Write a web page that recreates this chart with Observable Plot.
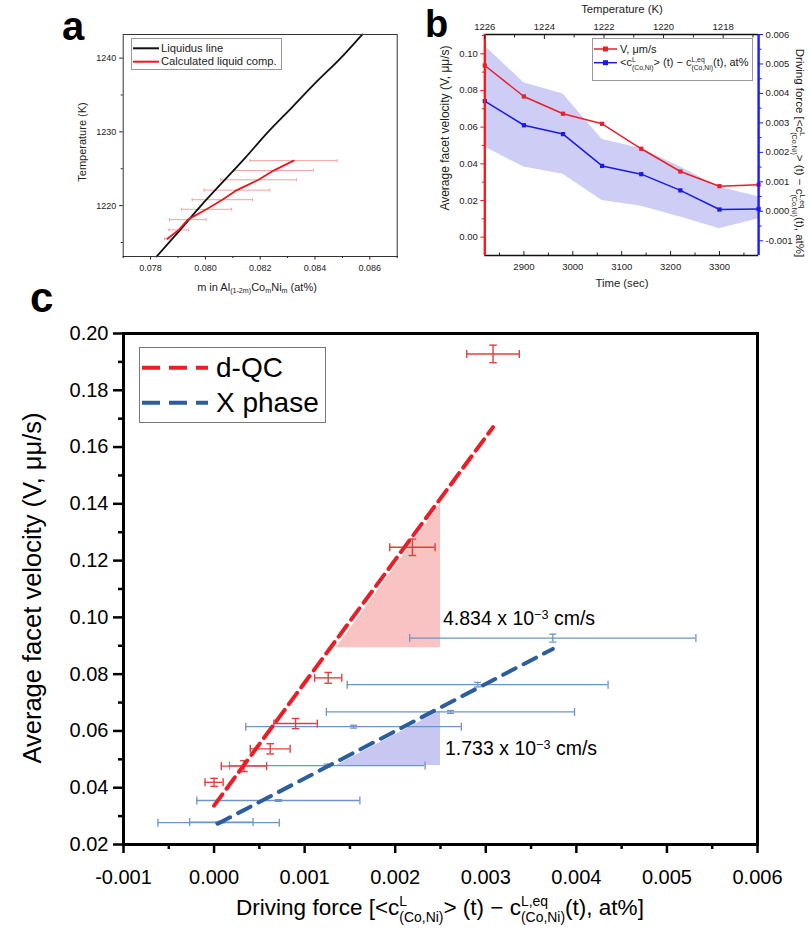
<!DOCTYPE html>
<html>
<head>
<meta charset="utf-8">
<script src="https://cdn.jsdelivr.net/npm/d3@7"></script>
<script src="https://cdn.jsdelivr.net/npm/@observablehq/plot@0.6"></script>
<style>
  html, body { margin: 0; padding: 0; background: #fff; }
  #root { position: relative; width: 809px; height: 936px; overflow: hidden; font-family: "Liberation Sans", Arial, sans-serif; color: #000; }
  .lbl { position: absolute; white-space: nowrap; line-height: 1; }
  .lbl sub, .lbl sup { font-size: 0.65em; vertical-align: baseline; position: relative; line-height: 0; }
  .lbl sub { top: 0.3em; }
  .lbl sup { top: -0.5em; }
  .ss { display: inline-flex; flex-direction: column; font-size: 0.62em; line-height: 1.15; position: relative; top: -0.62em; vertical-align: baseline; }
  .box { position: absolute; background: #fff; box-sizing: border-box; }
</style>
</head>
<body>
<div id="root"></div>
<script>
// ---------------- Panel a data ----------------
const aXTicks = [0.078, 0.080, 0.082, 0.084, 0.086];
const aXMinor = [0.077, 0.079, 0.081, 0.083, 0.085, 0.087];
const aYTicks = [1220, 1230, 1240];
const aYMinor = [1215, 1225, 1235];
const liquidusM = [0.07822, 0.07896, 0.07984, 0.08056, 0.08141, 0.08229, 0.08318, 0.08406, 0.08491, 0.08572];
const liquidusT = [1213.1, 1216.2, 1220.0, 1222.9, 1226.3, 1230.0, 1233.4, 1236.8, 1239.9, 1243.2];
const calcT = [1226.1, 1224.75, 1223.5, 1222.1, 1220.8, 1219.5, 1218.1, 1216.7, 1215.5];
const calcM = [0.08322, 0.08249, 0.08194, 0.08115, 0.08062, 0.08004, 0.07936, 0.07903, 0.07861];
const calcMErr = [0.00159, 0.00145, 0.00139, 0.0012, 0.0011, 0.00091, 0.00067, 0.00036, 0.0001];

// ---------------- Panel b data ----------------
const timeSec = [2820, 2900, 2980, 3060, 3140, 3220, 3300, 3380];
const velocity = [0.0936, 0.0767, 0.0673, 0.0618, 0.0482, 0.0358, 0.0278, 0.0286];
const drivingForce = [0.00374, 0.00292, 0.00262, 0.00154, 0.00126, 0.00071, 0.00006, 0.00008];
const dfUpper = [0.00561, 0.00436, 0.00398, 0.00244, 0.00213, 0.00150, 0.00082, 0.00049];
const dfLower = [0.00218, 0.00150, 0.00126, 0.00037, 0.00017, -0.00019, -0.00059, -0.00025];
const bTimeTicks = [2900, 3000, 3100, 3200, 3300];
const bTimeMinor = [2850, 2950, 3050, 3150, 3250, 3350];
const bTempTicks = [1226, 1224, 1222, 1220, 1218];
const bTempMinor = [1225, 1223, 1221, 1219, 1217];
const bTempRange = [1226, 1216.81];
const bVTicks = [0.00, 0.02, 0.04, 0.06, 0.08, 0.10];
const bVMinor = [0.01, 0.03, 0.05, 0.07, 0.09, 0.11];
const bVDomain = [-0.01, 0.1105];
const bDFTicks = [-0.001, 0.000, 0.001, 0.002, 0.003, 0.004, 0.005, 0.006];
const bDFMinor = [-0.0005, 0.0005, 0.0015, 0.0025, 0.0035, 0.0045, 0.0055];
const bDFDomain = [-0.0015, 0.006];

// ---------------- Panel c data ----------------
const cXTicks = [-0.001, 0.000, 0.001, 0.002, 0.003, 0.004, 0.005, 0.006];
const cXMinor = [-0.0005, 0.0005, 0.0015, 0.0025, 0.0035, 0.0045, 0.0055];
const cYTicks = [0.02, 0.04, 0.06, 0.08, 0.10, 0.12, 0.14, 0.16, 0.18, 0.20];
const cYMinor = [0.03, 0.05, 0.07, 0.09, 0.11, 0.13, 0.15, 0.17, 0.19];
const qcForce = [0.0000, 0.00033, 0.00062, 0.0009, 0.00126, 0.00219, 0.00308];
const qcVel = [0.0419, 0.0476, 0.0537, 0.0626, 0.0787, 0.1247, 0.1928];
const qcForceErr = [0.0001, 0.00025, 0.00022, 0.00024, 0.00015, 0.00025, 0.00029];
const qcVelErr = [0.0014, 0.0019, 0.0018, 0.0018, 0.0019, 0.0029, 0.0031];
const xpForce = [0.00374, 0.00291, 0.00261, 0.00154, 0.00125, 0.00071, 0.00005, 0.00008];
const xpVel = [0.0927, 0.0763, 0.0667, 0.0615, 0.0478, 0.0355, 0.0277, 0.0279];
const xpForceErr = [0.00158, 0.00144, 0.00137, 0.00119, 0.00108, 0.0009, 0.00067, 0.00035];
const xpVelErr = [0.0014, 0.0008, 0.0005, 0.0005, 0.0005, 0.0003, 0.0003, 0.0003];
const qcFitX = [0.0000, 0.00308];
const qcFitY = [0.0337, 0.167];
const xpFitX = [0.00004, 0.00374];
const xpFitY = [0.0273, 0.0889];
const qcShadeX = [0.00135, 0.0025];
const qcShadeLow = [0.0893, 0.0893];
const qcShadeHigh = [0.0893, 0.14];
const xpShadeX = [0.00135, 0.0025];
const xpShadeLow = [0.0478, 0.0478];
const xpShadeHigh = [0.0478, 0.067];

// ---------------- helpers ----------------
const FONT = '"Liberation Sans", Arial, sans-serif';
const root = document.getElementById("root");
const vbar = {draw(ctx, size) { const r = Math.sqrt(size / Math.PI); ctx.moveTo(0, -r); ctx.lineTo(0, r); }};
const hbar = {draw(ctx, size) { const r = Math.sqrt(size / Math.PI); ctx.moveTo(-r, 0); ctx.lineTo(r, 0); }};
const fmt = (n) => (v) => (Math.abs(v) < 1e-12 ? 0 : v).toFixed(n);
const blank = () => "";

function errX(data, color, cap, sw) {
  return [
    Plot.ruleY(data, {y: "y", x1: d => d.x - d.ex, x2: d => d.x + d.ex, stroke: color, strokeWidth: sw}),
    Plot.dot(data, {x: d => d.x - d.ex, y: "y", symbol: vbar, r: cap, stroke: color, strokeWidth: sw, fill: "none"}),
    Plot.dot(data, {x: d => d.x + d.ex, y: "y", symbol: vbar, r: cap, stroke: color, strokeWidth: sw, fill: "none"})
  ];
}
function errY(data, color, cap, sw) {
  return [
    Plot.ruleX(data, {x: "x", y1: d => d.y - d.ey, y2: d => d.y + d.ey, stroke: color, strokeWidth: sw}),
    Plot.dot(data, {x: "x", y: d => d.y - d.ey, symbol: hbar, r: cap, stroke: color, strokeWidth: sw, fill: "none"}),
    Plot.dot(data, {x: "x", y: d => d.y + d.ey, symbol: hbar, r: cap, stroke: color, strokeWidth: sw, fill: "none"})
  ];
}
function place(svg, left, top) {
  svg.style.position = "absolute";
  svg.style.left = left + "px";
  svg.style.top = top + "px";
  root.appendChild(svg);
}
function label(html, o) {
  const d = document.createElement("div");
  d.className = "lbl";
  d.innerHTML = html;
  d.style.fontSize = o.size + "px";
  d.style.height = o.size + "px";
  if (o.bold) d.style.fontWeight = "bold";
  if (o.color) d.style.color = o.color;
  if (o.cx !== undefined) {
    d.style.left = o.cx + "px";
    d.style.top = o.cy + "px";
    d.style.transform = `translate(-50%,-50%) rotate(${o.rotate || 0}deg)`;
  } else {
    d.style.left = o.x + "px";
    d.style.top = (o.baseline - 0.85 * o.size) + "px";
  }
  root.appendChild(d);
  return d;
}
function box(left, top, w, h, border) {
  const d = document.createElement("div");
  d.className = "box";
  Object.assign(d.style, {left: left + "px", top: top + "px", width: w + "px", height: h + "px", border: border});
  root.appendChild(d);
}
function legendLine(x1, x2, y, color, width, dash, marker) {
  const s = document.createElementNS("http://www.w3.org/2000/svg", "svg");
  s.setAttribute("width", 809); s.setAttribute("height", 936);
  s.style.position = "absolute"; s.style.left = "0px"; s.style.top = "0px"; s.style.overflow = "visible";
  s.style.pointerEvents = "none";
  s.innerHTML = `<line x1="${x1}" x2="${x2}" y1="${y}" y2="${y}" stroke="${color}" stroke-width="${width}" ${dash ? `stroke-dasharray="${dash}"` : ""}/>` +
    (marker ? `<rect x="${(x1 + x2) / 2 - 2.5}" y="${y - 2.5}" width="5" height="5" fill="${color}"/>` : "");
  root.appendChild(s);
}
const cLN = `c<span class="ss"><span>L</span><span>(Co,Ni)</span></span>`;
const cLEQ = `c<span class="ss"><span>L,eq</span><span>(Co,Ni)</span></span>`;
const dfText = `Driving force [&lt;${cLN}&gt; (t) − ${cLEQ}(t), at%]`;
const dfTextB = `&lt;${cLN}&gt; (t) − ${cLEQ}(t), at%`;

// ================= Panel a =================
const liqData = liquidusM.map((m, i) => ({x: m, y: liquidusT[i]}));
const calcData = calcM.map((m, i) => ({x: m, y: calcT[i], ex: calcMErr[i]}));
const aPlot = Plot.plot({
  width: 400, height: 300,
  marginLeft: 122.7, marginRight: 3.3, marginTop: 34, marginBottom: 44,
  x: {domain: [0.077, 0.087]},
  y: {domain: [1213.1, 1243.2]},
  style: `font-family:${FONT};background:transparent;overflow:visible;color:#222;`,
  marks: [
    ...errX(calcData, "#f4a3a3", 1.6, 1),
    Plot.line(liqData, {x: "x", y: "y", stroke: "#111", strokeWidth: 1.8, curve: "monotone-y"}),
    Plot.line(calcData, {x: "x", y: "y", stroke: "#e8191e", strokeWidth: 1.8}),
    Plot.frame({stroke: "#333", strokeWidth: 1}),
    Plot.axisX(aXTicks, {tickSize: 3.5, tickFormat: blank, label: null}),
    Plot.axisX(aXMinor, {tickSize: 2, tickFormat: blank, label: null}),
    Plot.axisX(aXTicks, {tickSize: 0, tickPadding: 8, tickFormat: fmt(3), fontSize: 9, label: null}),
    Plot.axisY(aYTicks, {tickSize: 3.5, tickFormat: blank, label: null}),
    Plot.axisY(aYMinor, {tickSize: 2, tickFormat: blank, label: null}),
    Plot.axisY(aYTicks, {tickSize: 0, tickPadding: 7, tickFormat: fmt(0), fontSize: 9, label: null})
  ]
});
place(aPlot, 0, 0);
label("a", {x: 62, baseline: 40, size: 40, bold: true});
label("Temperature (K)", {cx: 82, cy: 142, size: 11, rotate: -90, color: "#222"});
label("m in Al<sub>(1-2m)</sub>Co<sub>m</sub>Ni<sub>m</sub> (at%)", {cx: 257, cy: 287, size: 11, color: "#222"});
box(131, 38, 151, 32, "1px solid #999");
legendLine(133, 159, 48.3, "#111", 2);
legendLine(133, 159, 61.7, "#e8191e", 2);
label("Liquidus line", {x: 161, baseline: 52.3, size: 11.2, color: "#222"});
label("Calculated liquid comp.", {x: 161, baseline: 65.7, size: 11.2, color: "#222"});

// ================= Panel b =================
const toLeft = (d) => bVDomain[0] + (d - bDFDomain[0]) * (bVDomain[1] - bVDomain[0]) / (bDFDomain[1] - bDFDomain[0]);
const fromLeft = (v) => bDFDomain[0] + (v - bVDomain[0]) * (bDFDomain[1] - bDFDomain[0]) / (bVDomain[1] - bVDomain[0]);
const tempToTime = (T) => timeSec[0] + (bTempRange[0] - T) * (timeSec[timeSec.length - 1] - timeSec[0]) / (bTempRange[0] - bTempRange[1]);
const timeToTemp = (t) => bTempRange[0] - (t - timeSec[0]) * (bTempRange[0] - bTempRange[1]) / (timeSec[timeSec.length - 1] - timeSec[0]);
const bData = timeSec.map((t, i) => ({t, v: velocity[i], df: toLeft(drivingForce[i]), up: toLeft(dfUpper[i]), lo: toLeft(dfLower[i])}));
const RED = "#e8202a", BLUE = "#1a1ae6";
const bPlot = Plot.plot({
  width: 409, height: 300,
  marginLeft: 84.3, marginRight: 50.9, marginTop: 34, marginBottom: 45,
  x: {domain: [timeSec[0], timeSec[timeSec.length - 1]]},
  y: {domain: bVDomain},
  style: `font-family:${FONT};background:transparent;overflow:visible;color:#222;`,
  marks: [
    Plot.areaY(bData, {x: "t", y1: "lo", y2: "up", fill: "#cdcdf6"}),
    Plot.line(bData, {x: "t", y: "v", stroke: RED, strokeWidth: 1.5}),
    Plot.dot(bData, {x: "t", y: "v", symbol: "square", r: 2.4, fill: RED}),
    Plot.line(bData, {x: "t", y: "df", stroke: BLUE, strokeWidth: 1.5}),
    Plot.dot(bData, {x: "t", y: "df", symbol: "square", r: 2.4, fill: BLUE}),
    Plot.ruleY([bVDomain[0], bVDomain[1]], {stroke: "#111", strokeWidth: 1.3}),
    Plot.ruleX([timeSec[0]], {stroke: "#ff1a1a", strokeWidth: 2.4}),
    Plot.ruleX([timeSec[timeSec.length - 1]], {stroke: "#1a1aff", strokeWidth: 2.4}),
    // bottom axis (inward ticks)
    Plot.axisX(bTimeTicks, {tickSize: 4, dy: -4, tickFormat: blank, label: null}),
    Plot.axisX(bTimeMinor, {tickSize: 2.5, dy: -2.5, tickFormat: blank, label: null}),
    Plot.axisX(bTimeTicks, {tickSize: 0, tickPadding: 8, tickFormat: fmt(0), fontSize: 9.5, label: null}),
    // top axis: temperature
    Plot.axisX(bTempTicks.map(tempToTime), {anchor: "top", tickSize: 4, dy: 4, tickFormat: blank, label: null}),
    Plot.axisX(bTempMinor.map(tempToTime), {anchor: "top", tickSize: 2.5, dy: 2.5, tickFormat: blank, label: null}),
    Plot.axisX(bTempTicks.map(tempToTime), {anchor: "top", tickSize: 0, tickPadding: 5, tickFormat: t => String(Math.round(timeToTemp(t))), fontSize: 9.5, label: null}),
    // left axis
    Plot.axisY(bVTicks, {tickSize: 4, tickFormat: blank, label: null, color: "#ff1a1a"}),
    Plot.axisY(bVMinor, {tickSize: 2.5, tickFormat: blank, label: null, color: "#ff1a1a"}),
    Plot.axisY(bVTicks, {tickSize: 0, tickPadding: 7, tickFormat: fmt(2), fontSize: 9.5, label: null}),
    // right axis
    Plot.axisY(bDFTicks.map(toLeft), {anchor: "right", tickSize: 4, tickFormat: blank, label: null, color: "#1a1aff"}),
    Plot.axisY(bDFMinor.map(toLeft), {anchor: "right", tickSize: 2.5, tickFormat: blank, label: null, color: "#1a1aff"}),
    Plot.axisY(bDFTicks.map(toLeft), {anchor: "right", tickSize: 0, tickPadding: 7, tickFormat: v => fmt(3)(fromLeft(v)), fontSize: 9.5, label: null})
  ]
});
place(bPlot, 400, 0);
label("b", {x: 425, baseline: 37, size: 38, bold: true});
label("Temperature (K)", {cx: 622, cy: 10, size: 11.3, color: "#222"});
label("Time (sec)", {cx: 622, cy: 284, size: 11.3, color: "#222"});
label("Average facet velocity (V, μμ/s)", {cx: 445, cy: 128, size: 12, rotate: -90, color: "#222"});
label(dfText, {cx: 799, cy: 153, size: 11.5, rotate: 90, color: "#222"});
box(592, 38, 161, 43, "1px solid #999");
legendLine(594, 617, 49, RED, 1.5, null, true);
legendLine(594, 617, 62.7, BLUE, 1.5, null, true);
label("V, μm/s", {x: 620, baseline: 53, size: 11, color: "#222"});
label(dfTextB, {x: 620, baseline: 66.7, size: 11, color: "#222"});

// ================= Panel c =================
const qcData = qcForce.map((x, i) => ({x, y: qcVel[i], ex: qcForceErr[i], ey: qcVelErr[i]}));
const xpData = xpForce.map((x, i) => ({x, y: xpVel[i], ex: xpForceErr[i], ey: xpVelErr[i]}));
const qcFit = qcFitX.map((x, i) => ({x, y: qcFitY[i]}));
const xpFit = xpFitX.map((x, i) => ({x, y: xpFitY[i]}));
const qcShade = qcShadeX.map((x, i) => ({x, lo: qcShadeLow[i], hi: qcShadeHigh[i]}));
const xpShade = xpShadeX.map((x, i) => ({x, lo: xpShadeLow[i], hi: xpShadeHigh[i]}));
const QC = "#ee1c24", XP = "#2c5d9c", QCERR = "#e0403c", XPERR = "#6f94c6";
const cPlot = Plot.plot({
  width: 809, height: 646,
  marginLeft: 123, marginRight: 52, marginTop: 43, marginBottom: 92,
  x: {domain: [-0.001, 0.006]},
  y: {domain: [0.02, 0.20]},
  style: `font-family:${FONT};background:transparent;overflow:visible;color:#000;`,
  marks: [
    Plot.areaY(qcShade, {x: "x", y1: "lo", y2: "hi", fill: "#f9c3c3"}),
    Plot.areaY(xpShade, {x: "x", y1: "lo", y2: "hi", fill: "#c7c7f1"}),
    ...errX(xpData, XPERR, 4, 1.3),
    ...errY(xpData, XPERR, 3.5, 1.3),
    ...errX(qcData, QCERR, 4, 1.4),
    ...errY(qcData, QCERR, 3.8, 1.4),
    Plot.line(xpFit, {x: "x", y: "y", stroke: XP, strokeWidth: 4, strokeDasharray: "14,9"}),
    Plot.line(qcFit, {x: "x", y: "y", stroke: QC, strokeWidth: 4, strokeDasharray: "14,7"}),
    Plot.frame({stroke: "#000", strokeWidth: 3}),
    Plot.axisX(cXTicks, {tickSize: 9, strokeWidth: 2.5, tickFormat: blank, label: null}),
    Plot.axisX(cXMinor, {tickSize: 5, strokeWidth: 2.5, tickFormat: blank, label: null}),
    Plot.axisX(cXTicks, {tickSize: 0, tickPadding: 25, tickFormat: fmt(3), fontSize: 20, label: null}),
    Plot.axisY(cYTicks, {tickSize: 10, strokeWidth: 2.5, tickFormat: blank, label: null}),
    Plot.axisY(cYMinor, {tickSize: 5, strokeWidth: 2.5, tickFormat: blank, label: null}),
    Plot.axisY(cYTicks, {tickSize: 0, tickPadding: 15, tickFormat: fmt(2), fontSize: 20, label: null})
  ]
});
place(cPlot, 0, 290);
label("c", {x: 30, baseline: 313, size: 42, bold: true});
label("Average facet velocity (V, μμ/s)", {cx: 33, cy: 588, size: 25.5, rotate: -90});
label(dfText, {cx: 440, cy: 908, size: 22.5});
label("4.834 x 10<sup>−3</sup> cm/s", {x: 443, baseline: 626, size: 19.5});
label("1.733 x 10<sup>−3</sup> cm/s", {x: 445, baseline: 756, size: 19.5});
box(139, 347, 187, 76, "1px solid #777");
legendLine(142, 208, 367.7, QC, 4, "18,9");
legendLine(142, 208, 402.7, XP, 4, "18,9");
label("d-QC", {x: 216, baseline: 377.5, size: 28});
label("X phase", {x: 216, baseline: 413, size: 28});
</script>
</body>
</html>
